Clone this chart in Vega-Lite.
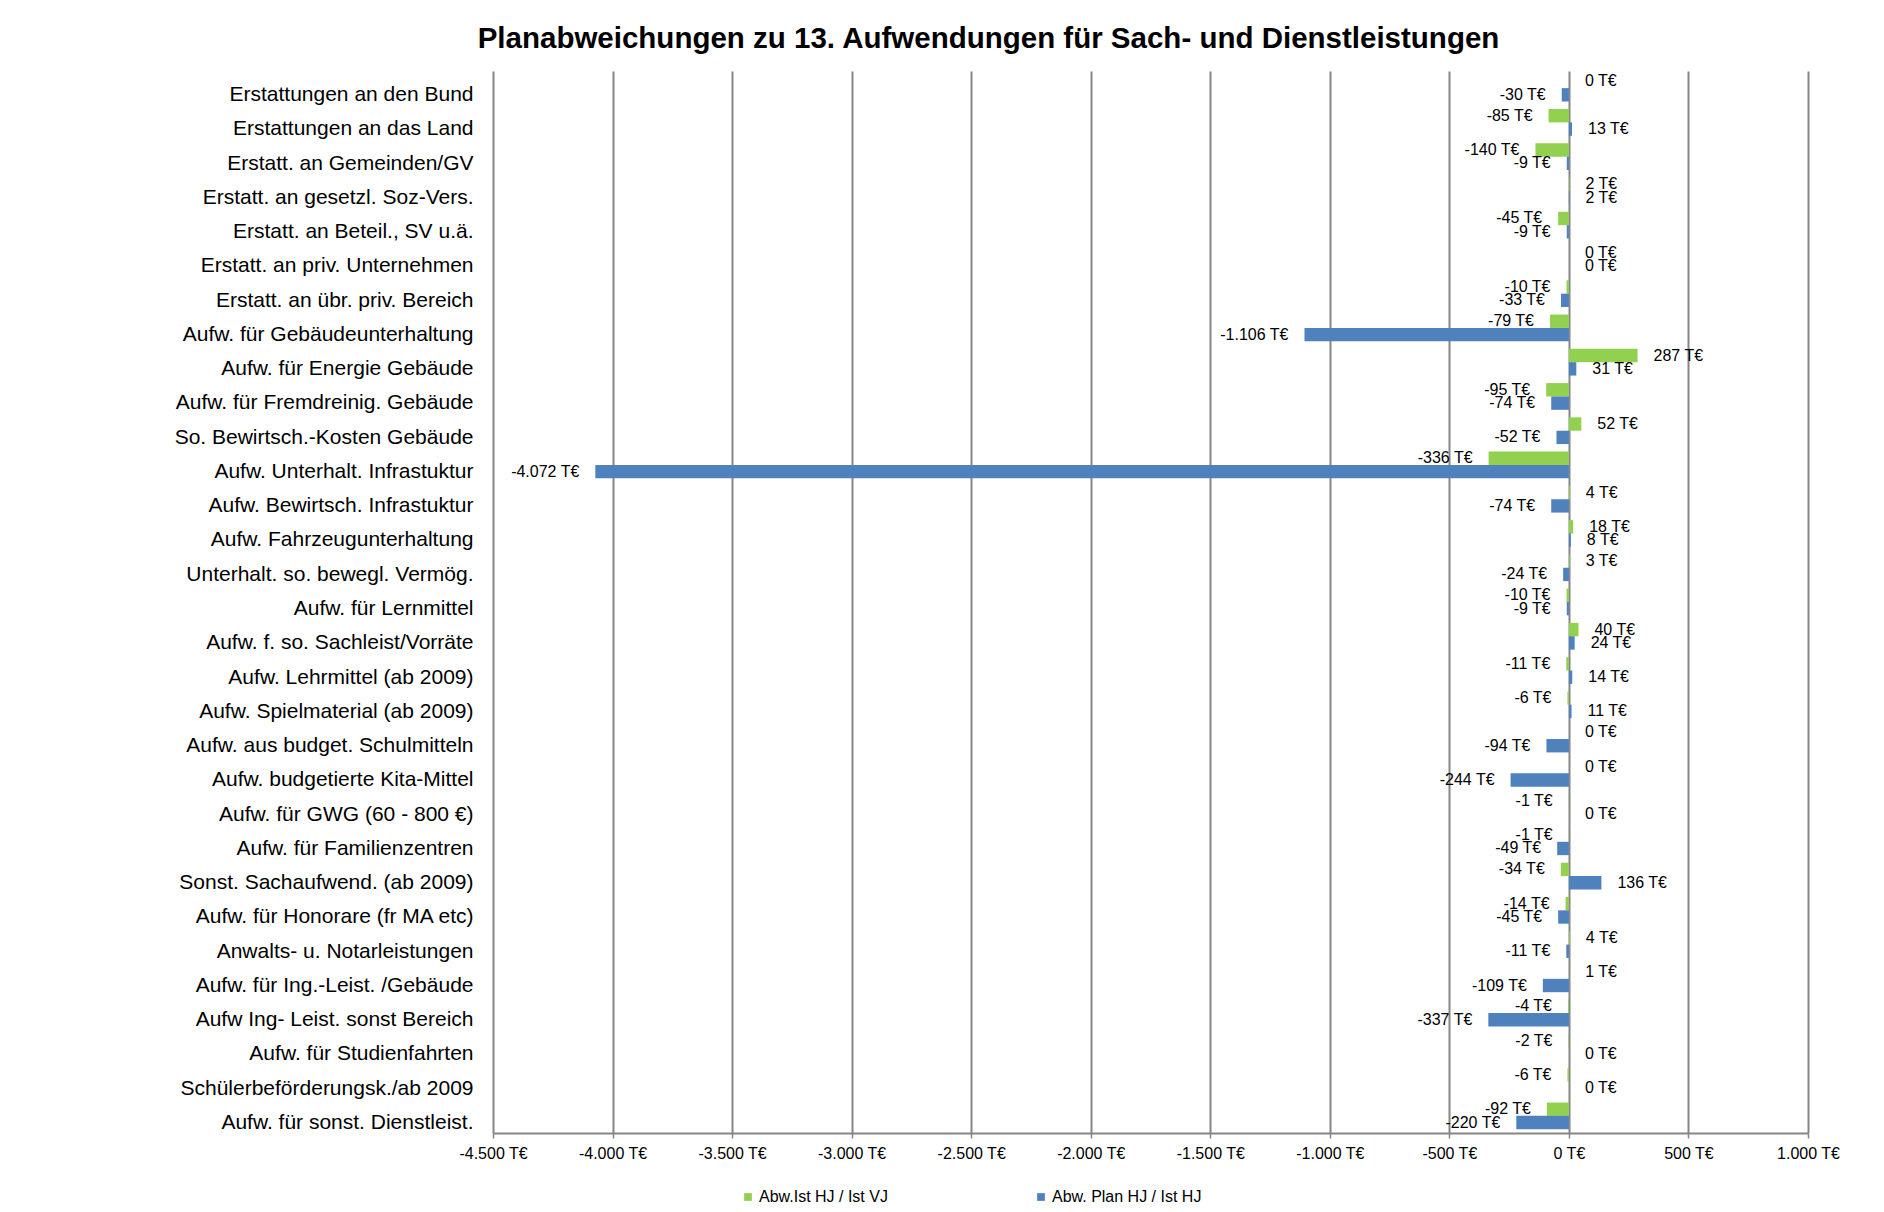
{
  "$schema": "https://vega.github.io/schema/vega-lite/v6.json",
  "autosize": {"type": "none"},
  "width": 1315,
  "height": 1062,
  "padding": {"left": 493, "top": 71, "right": 76, "bottom": 79},
  "background": "white",
  "title": {
    "text": "Planabweichungen zu 13.  Aufwendungen für Sach- und Dienstleistungen",
    "fontSize": 29.5,
    "fontWeight": "bold",
    "color": "black",
    "anchor": "middle",
    "dx": -162,
    "offset": 17
  },
  "config": {
    "font": "Liberation Sans",
    "view": {"stroke": null},
    "locale": {
      "number": {"decimal": ",", "thousands": ".", "grouping": [3], "currency": ["", " T€"], "minus": "-"}
    }
  },
  "data": {
    "values": [
      {"cat": "Erstattungen an den Bund", "series": "Abw.Ist HJ / Ist VJ", "value": 0},
      {"cat": "Erstattungen an den Bund", "series": "Abw. Plan HJ / Ist HJ", "value": -30},
      {"cat": "Erstattungen an das Land", "series": "Abw.Ist HJ / Ist VJ", "value": -85},
      {"cat": "Erstattungen an das Land", "series": "Abw. Plan HJ / Ist HJ", "value": 13},
      {"cat": "Erstatt. an Gemeinden/GV", "series": "Abw.Ist HJ / Ist VJ", "value": -140},
      {"cat": "Erstatt. an Gemeinden/GV", "series": "Abw. Plan HJ / Ist HJ", "value": -9},
      {"cat": "Erstatt. an gesetzl. Soz-Vers.", "series": "Abw.Ist HJ / Ist VJ", "value": 2},
      {"cat": "Erstatt. an gesetzl. Soz-Vers.", "series": "Abw. Plan HJ / Ist HJ", "value": 2},
      {"cat": "Erstatt. an Beteil., SV u.ä.", "series": "Abw.Ist HJ / Ist VJ", "value": -45},
      {"cat": "Erstatt. an Beteil., SV u.ä.", "series": "Abw. Plan HJ / Ist HJ", "value": -9},
      {"cat": "Erstatt. an priv. Unternehmen", "series": "Abw.Ist HJ / Ist VJ", "value": 0},
      {"cat": "Erstatt. an priv. Unternehmen", "series": "Abw. Plan HJ / Ist HJ", "value": 0},
      {"cat": "Erstatt. an übr. priv. Bereich", "series": "Abw.Ist HJ / Ist VJ", "value": -10},
      {"cat": "Erstatt. an übr. priv. Bereich", "series": "Abw. Plan HJ / Ist HJ", "value": -33},
      {"cat": "Aufw. für Gebäudeunterhaltung", "series": "Abw.Ist HJ / Ist VJ", "value": -79},
      {"cat": "Aufw. für Gebäudeunterhaltung", "series": "Abw. Plan HJ / Ist HJ", "value": -1106},
      {"cat": "Aufw. für Energie Gebäude", "series": "Abw.Ist HJ / Ist VJ", "value": 287},
      {"cat": "Aufw. für Energie Gebäude", "series": "Abw. Plan HJ / Ist HJ", "value": 31},
      {"cat": "Aufw. für Fremdreinig. Gebäude", "series": "Abw.Ist HJ / Ist VJ", "value": -95},
      {"cat": "Aufw. für Fremdreinig. Gebäude", "series": "Abw. Plan HJ / Ist HJ", "value": -74},
      {"cat": "So. Bewirtsch.-Kosten Gebäude", "series": "Abw.Ist HJ / Ist VJ", "value": 52},
      {"cat": "So. Bewirtsch.-Kosten Gebäude", "series": "Abw. Plan HJ / Ist HJ", "value": -52},
      {"cat": "Aufw. Unterhalt. Infrastuktur", "series": "Abw.Ist HJ / Ist VJ", "value": -336},
      {"cat": "Aufw. Unterhalt. Infrastuktur", "series": "Abw. Plan HJ / Ist HJ", "value": -4072},
      {"cat": "Aufw. Bewirtsch. Infrastuktur", "series": "Abw.Ist HJ / Ist VJ", "value": 4},
      {"cat": "Aufw. Bewirtsch. Infrastuktur", "series": "Abw. Plan HJ / Ist HJ", "value": -74},
      {"cat": "Aufw. Fahrzeugunterhaltung", "series": "Abw.Ist HJ / Ist VJ", "value": 18},
      {"cat": "Aufw. Fahrzeugunterhaltung", "series": "Abw. Plan HJ / Ist HJ", "value": 8},
      {"cat": "Unterhalt. so. bewegl. Vermög.", "series": "Abw.Ist HJ / Ist VJ", "value": 3},
      {"cat": "Unterhalt. so. bewegl. Vermög.", "series": "Abw. Plan HJ / Ist HJ", "value": -24},
      {"cat": "Aufw. für Lernmittel", "series": "Abw.Ist HJ / Ist VJ", "value": -10},
      {"cat": "Aufw. für Lernmittel", "series": "Abw. Plan HJ / Ist HJ", "value": -9},
      {"cat": "Aufw. f. so. Sachleist/Vorräte", "series": "Abw.Ist HJ / Ist VJ", "value": 40},
      {"cat": "Aufw. f. so. Sachleist/Vorräte", "series": "Abw. Plan HJ / Ist HJ", "value": 24},
      {"cat": "Aufw. Lehrmittel (ab 2009)", "series": "Abw.Ist HJ / Ist VJ", "value": -11},
      {"cat": "Aufw. Lehrmittel (ab 2009)", "series": "Abw. Plan HJ / Ist HJ", "value": 14},
      {"cat": "Aufw. Spielmaterial (ab 2009)", "series": "Abw.Ist HJ / Ist VJ", "value": -6},
      {"cat": "Aufw. Spielmaterial (ab 2009)", "series": "Abw. Plan HJ / Ist HJ", "value": 11},
      {"cat": "Aufw. aus budget. Schulmitteln", "series": "Abw.Ist HJ / Ist VJ", "value": 0},
      {"cat": "Aufw. aus budget. Schulmitteln", "series": "Abw. Plan HJ / Ist HJ", "value": -94},
      {"cat": "Aufw. budgetierte Kita-Mittel", "series": "Abw.Ist HJ / Ist VJ", "value": 0},
      {"cat": "Aufw. budgetierte Kita-Mittel", "series": "Abw. Plan HJ / Ist HJ", "value": -244},
      {"cat": "Aufw. für GWG (60 - 800 €)", "series": "Abw.Ist HJ / Ist VJ", "value": -1},
      {"cat": "Aufw. für GWG (60 - 800 €)", "series": "Abw. Plan HJ / Ist HJ", "value": 0},
      {"cat": "Aufw. für Familienzentren", "series": "Abw.Ist HJ / Ist VJ", "value": -1},
      {"cat": "Aufw. für Familienzentren", "series": "Abw. Plan HJ / Ist HJ", "value": -49},
      {"cat": "Sonst. Sachaufwend. (ab 2009)", "series": "Abw.Ist HJ / Ist VJ", "value": -34},
      {"cat": "Sonst. Sachaufwend. (ab 2009)", "series": "Abw. Plan HJ / Ist HJ", "value": 136},
      {"cat": "Aufw. für Honorare (fr MA etc)", "series": "Abw.Ist HJ / Ist VJ", "value": -14},
      {"cat": "Aufw. für Honorare (fr MA etc)", "series": "Abw. Plan HJ / Ist HJ", "value": -45},
      {"cat": "Anwalts- u. Notarleistungen", "series": "Abw.Ist HJ / Ist VJ", "value": 4},
      {"cat": "Anwalts- u. Notarleistungen", "series": "Abw. Plan HJ / Ist HJ", "value": -11},
      {"cat": "Aufw. für Ing.-Leist. /Gebäude", "series": "Abw.Ist HJ / Ist VJ", "value": 1},
      {"cat": "Aufw. für Ing.-Leist. /Gebäude", "series": "Abw. Plan HJ / Ist HJ", "value": -109},
      {"cat": "Aufw Ing- Leist. sonst Bereich", "series": "Abw.Ist HJ / Ist VJ", "value": -4},
      {"cat": "Aufw Ing- Leist. sonst Bereich", "series": "Abw. Plan HJ / Ist HJ", "value": -337},
      {"cat": "Aufw. für Studienfahrten", "series": "Abw.Ist HJ / Ist VJ", "value": -2},
      {"cat": "Aufw. für Studienfahrten", "series": "Abw. Plan HJ / Ist HJ", "value": 0},
      {"cat": "Schülerbeförderungsk./ab 2009", "series": "Abw.Ist HJ / Ist VJ", "value": -6},
      {"cat": "Schülerbeförderungsk./ab 2009", "series": "Abw. Plan HJ / Ist HJ", "value": 0},
      {"cat": "Aufw. für sonst. Dienstleist.", "series": "Abw.Ist HJ / Ist VJ", "value": -92},
      {"cat": "Aufw. für sonst. Dienstleist.", "series": "Abw. Plan HJ / Ist HJ", "value": -220}
    ]
  },
  "encoding": {
    "y": {
      "field": "cat",
      "type": "nominal",
      "sort": null,
      "scale": {"paddingInner": 0.22, "paddingOuter": 0.11},
      "axis": {
        "title": null,
        "domain": false,
        "ticks": false,
        "labelFontSize": 21,
        "labelColor": "black",
        "labelPadding": 20,
        "labelLimit": 0,
        "labelOffset": 7
      }
    },
    "yOffset": {
      "field": "series",
      "type": "nominal",
      "scale": {"domain": ["Abw.Ist HJ / Ist VJ", "Abw. Plan HJ / Ist HJ"], "paddingInner": 0, "paddingOuter": 0}
    },
    "x": {
      "field": "value",
      "type": "quantitative",
      "scale": {"domain": [-4500, 1000], "nice": false, "zero": true},
      "axis": {
        "title": null,
        "values": [-4500, -4000, -3500, -3000, -2500, -2000, -1500, -1000, -500, 0, 500, 1000],
        "format": "$,d",
        "grid": true,
        "gridColor": "#868686",
        "gridWidth": 2,
        "gridOpacity": 1,
        "domainColor": "#868686",
        "domainWidth": 2,
        "tickColor": "#868686",
        "tickSize": 5,
        "tickWidth": 1.5,
        "labelFontSize": 16,
        "labelColor": "black",
        "labelPadding": 7,
        "labelFlush": false,
        "labelOverlap": false
      }
    }
  },
  "layer": [
    {
      "mark": {"type": "bar"},
      "encoding": {
        "color": {
          "field": "series",
          "type": "nominal",
          "scale": {"domain": ["Abw.Ist HJ / Ist VJ", "Abw. Plan HJ / Ist HJ"], "range": ["#92D050", "#4F81BD"]},
          "legend": {
            "title": null,
            "orient": "none",
            "legendX": 247,
            "legendY": 1118,
            "direction": "horizontal",
            "columnPadding": 145,
            "labelFontSize": 16,
            "labelColor": "black",
            "symbolType": "square",
            "symbolSize": 60,
            "symbolStrokeWidth": 0,
            "labelOffset": 3,
            "padding": 0
          }
        }
      }
    },
    {
      "transform": [{"filter": "datum.value < 0"}],
      "mark": {"type": "text", "align": "right", "baseline": "middle", "dx": -16, "fontSize": 16, "color": "black"},
      "encoding": {
        "text": {"field": "value", "type": "quantitative", "format": "$,d"}
      }
    },
    {
      "transform": [{"filter": "datum.value >= 0"}],
      "mark": {"type": "text", "align": "left", "baseline": "middle", "dx": 16, "fontSize": 16, "color": "black"},
      "encoding": {
        "text": {"field": "value", "type": "quantitative", "format": "$,d"}
      }
    }
  ]
}
